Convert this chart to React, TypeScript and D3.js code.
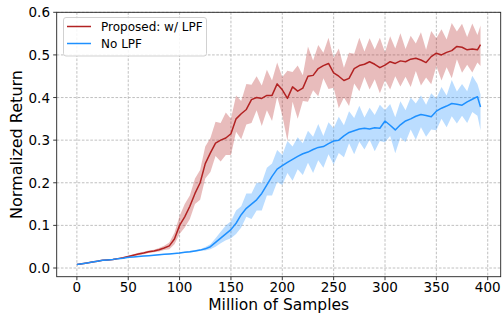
import React from "react";
import * as d3 from "d3";

const samples = [
  0, 5, 10, 15, 20, 25, 30, 35, 40, 45,
  50, 55, 60, 65, 70, 75, 80, 85, 90, 95,
  100, 105, 110, 115, 120, 125, 130, 135, 140, 145,
  150, 155, 160, 165, 170, 175, 180, 185, 190, 195,
  200, 205, 210, 215, 220, 225, 230, 235, 240, 245,
  250, 255, 260, 265, 270, 275, 280, 285, 290, 295,
  300, 305, 310, 315, 320, 325, 330, 335, 340, 345,
  350, 355, 360, 365, 370, 375, 380, 385, 390, 393,
];

const lpfMean = [
  0.008, 0.010, 0.012, 0.014, 0.016, 0.018, 0.019, 0.020, 0.022, 0.024,
  0.027, 0.030, 0.033, 0.035, 0.038, 0.040, 0.043, 0.047, 0.052, 0.068,
  0.100, 0.120, 0.145, 0.175, 0.200, 0.245, 0.270, 0.293, 0.300, 0.305,
  0.315, 0.350, 0.362, 0.372, 0.395, 0.400, 0.398, 0.405, 0.405, 0.432,
  0.418, 0.398, 0.425, 0.415, 0.422, 0.450, 0.452, 0.468, 0.475, 0.480,
  0.458, 0.450, 0.440, 0.445, 0.468, 0.475, 0.478, 0.484, 0.478, 0.470,
  0.476, 0.484, 0.480, 0.486, 0.484, 0.490, 0.492, 0.488, 0.482, 0.496,
  0.504, 0.500, 0.506, 0.510, 0.520, 0.518, 0.512, 0.514, 0.512, 0.524,
];

const lpfUp = [
  0.001, 0.001, 0.001, 0.001, 0.001, 0.001, 0.001, 0.001, 0.001, 0.001,
  0.002, 0.002, 0.003, 0.003, 0.003, 0.003, 0.004, 0.005, 0.008, 0.015,
  0.022, 0.030, 0.025, 0.035, 0.030, 0.040, 0.035, 0.050, 0.040, 0.060,
  0.035, 0.055, 0.030, 0.060, 0.035, 0.050, 0.030, 0.060, 0.035, 0.050,
  0.030, 0.065, 0.035, 0.060, 0.030, 0.070, 0.035, 0.055, 0.030, 0.060,
  0.035, 0.065, 0.030, 0.060, 0.035, 0.065, 0.030, 0.055, 0.035, 0.070,
  0.030, 0.060, 0.035, 0.065, 0.030, 0.055, 0.035, 0.065, 0.030, 0.060,
  0.035, 0.060, 0.030, 0.065, 0.035, 0.055, 0.030, 0.060, 0.035, 0.045,
];

const lpfDown = [
  0.001, 0.001, 0.001, 0.001, 0.001, 0.001, 0.001, 0.001, 0.001, 0.001,
  0.002, 0.002, 0.003, 0.003, 0.003, 0.003, 0.004, 0.005, 0.008, 0.012,
  0.020, 0.025, 0.030, 0.025, 0.040, 0.035, 0.045, 0.030, 0.050, 0.040,
  0.050, 0.030, 0.060, 0.035, 0.055, 0.030, 0.065, 0.035, 0.060, 0.030,
  0.060, 0.100, 0.035, 0.065, 0.030, 0.060, 0.035, 0.065, 0.030, 0.060,
  0.035, 0.075, 0.040, 0.065, 0.035, 0.060, 0.030, 0.065, 0.035, 0.060,
  0.035, 0.065, 0.030, 0.060, 0.035, 0.065, 0.030, 0.060, 0.035, 0.065,
  0.030, 0.060, 0.035, 0.065, 0.030, 0.060, 0.035, 0.055, 0.030, 0.050,
];

const noLpfMean = [
  0.008, 0.010, 0.012, 0.014, 0.016, 0.018, 0.019, 0.020, 0.022, 0.023,
  0.025, 0.026, 0.027, 0.028, 0.029, 0.030, 0.031, 0.032, 0.033, 0.034,
  0.035, 0.037, 0.038, 0.040, 0.042, 0.045, 0.050, 0.060, 0.070, 0.080,
  0.090, 0.105, 0.125, 0.140, 0.150, 0.160, 0.175, 0.195, 0.215, 0.232,
  0.240, 0.248, 0.255, 0.262, 0.268, 0.272, 0.278, 0.283, 0.285, 0.292,
  0.298, 0.300, 0.310, 0.318, 0.322, 0.326, 0.328, 0.326, 0.329, 0.328,
  0.345, 0.335, 0.324, 0.336, 0.345, 0.350, 0.356, 0.360, 0.358, 0.355,
  0.368, 0.375, 0.380, 0.386, 0.384, 0.382, 0.390, 0.396, 0.402, 0.378,
];

const noLpfUp = [
  0.001, 0.001, 0.001, 0.001, 0.001, 0.001, 0.001, 0.001, 0.001, 0.001,
  0.001, 0.001, 0.001, 0.001, 0.001, 0.001, 0.001, 0.001, 0.001, 0.001,
  0.001, 0.001, 0.002, 0.002, 0.002, 0.004, 0.006, 0.010, 0.015, 0.020,
  0.020, 0.030, 0.020, 0.035, 0.025, 0.040, 0.025, 0.040, 0.030, 0.045,
  0.025, 0.050, 0.030, 0.045, 0.025, 0.050, 0.030, 0.055, 0.025, 0.050,
  0.030, 0.055, 0.025, 0.050, 0.030, 0.055, 0.025, 0.050, 0.030, 0.055,
  0.025, 0.050, 0.030, 0.055, 0.025, 0.050, 0.030, 0.045, 0.025, 0.055,
  0.030, 0.050, 0.025, 0.055, 0.030, 0.050, 0.025, 0.055, 0.030, 0.030,
];

const noLpfDown = [
  0.001, 0.001, 0.001, 0.001, 0.001, 0.001, 0.001, 0.001, 0.001, 0.001,
  0.001, 0.001, 0.001, 0.001, 0.001, 0.001, 0.001, 0.001, 0.001, 0.001,
  0.001, 0.001, 0.002, 0.002, 0.002, 0.004, 0.006, 0.010, 0.012, 0.015,
  0.020, 0.025, 0.030, 0.020, 0.035, 0.025, 0.040, 0.025, 0.045, 0.030,
  0.045, 0.025, 0.050, 0.030, 0.050, 0.025, 0.055, 0.030, 0.050, 0.025,
  0.055, 0.030, 0.050, 0.025, 0.055, 0.030, 0.050, 0.025, 0.055, 0.030,
  0.050, 0.025, 0.055, 0.030, 0.050, 0.025, 0.055, 0.030, 0.050, 0.030,
  0.045, 0.025, 0.050, 0.030, 0.045, 0.025, 0.050, 0.030, 0.045, 0.055,
];

const xTicks = [0, 50, 100, 150, 200, 250, 300, 350, 400];
const yTicks = [0.0, 0.1, 0.2, 0.3, 0.4, 0.5, 0.6];
const seriesNames = ["Proposed: w/ LPF", "No LPF"];
const lineColors = ["#b22222", "#1e90ff"];
const bandColors = ["rgba(178,34,34,0.3)", "rgba(30,144,255,0.3)"];

const W = 502;
const H = 313;
const left = 56.7;
const right = 500.7;
const top = 12.3;
const bottom = 276.7;
const font = "'DejaVu Sans', sans-serif";

export default function App() {
  const x = d3.scaleLinear().domain([-19.65, 412.65]).range([left, right]);
  const y = d3.scaleLinear().domain([-0.0204, 0.6]).range([bottom, top]);

  const series = [
    { mean: lpfMean, up: lpfUp, down: lpfDown },
    { mean: noLpfMean, up: noLpfUp, down: noLpfDown },
  ];

  const line = d3
    .line<number>()
    .x((_, i) => x(samples[i]))
    .y((d) => y(d));

  const bands = series.map((s) =>
    d3
      .area<number>()
      .x((_, i) => x(samples[i]))
      .y0((d, i) => y(d - s.down[i]))
      .y1((d, i) => y(d + s.up[i]))(s.mean)
  );

  return (
    <svg
      width={W}
      height={H}
      style={{ position: "fixed", left: 0, top: 0, background: "#fff" }}
      fontFamily={font}
    >
      <defs>
        <clipPath id="plotclip">
          <rect x={left} y={top} width={right - left} height={bottom - top} />
        </clipPath>
      </defs>
      <g stroke="#b0b0b0" strokeWidth={0.8} strokeDasharray="2.6,1.6">
        {xTicks.map((t) => (
          <line key={"gx" + t} x1={x(t)} x2={x(t)} y1={top} y2={bottom} />
        ))}
        {yTicks.map((t) => (
          <line key={"gy" + t} x1={left} x2={right} y1={y(t)} y2={y(t)} />
        ))}
      </g>
      <g clipPath="url(#plotclip)">
        {bands.map((d, i) => (
          <path key={"b" + i} d={d || ""} fill={bandColors[i]} stroke="none" />
        ))}
        {series.map((s, i) => (
          <path
            key={"l" + i}
            d={line(s.mean) || ""}
            fill="none"
            stroke={lineColors[i]}
            strokeWidth={1.5}
            strokeLinejoin="round"
          />
        ))}
      </g>
      <rect
        x={left}
        y={top}
        width={right - left}
        height={bottom - top}
        fill="none"
        stroke="#222"
        strokeWidth={0.9}
      />
      <g stroke="#222" strokeWidth={0.9}>
        {xTicks.map((t) => (
          <line key={"tx" + t} x1={x(t)} x2={x(t)} y1={bottom} y2={bottom + 3.5} />
        ))}
        {yTicks.map((t) => (
          <line key={"ty" + t} x1={left - 3.5} x2={left} y1={y(t)} y2={y(t)} />
        ))}
      </g>
      <g fontSize={13.5} fill="#000">
        {xTicks.map((t) => (
          <text key={"lx" + t} x={x(t)} y={292} textAnchor="middle">
            {t}
          </text>
        ))}
        {yTicks.map((t) => (
          <text key={"ly" + t} x={50} y={y(t) + 5} textAnchor="end">
            {t.toFixed(1)}
          </text>
        ))}
      </g>
      <text x={(left + right) / 2} y={310} textAnchor="middle" fontSize={15.5} fill="#000">
        Million of Samples
      </text>
      <text
        transform={`translate(22,${(top + bottom) / 2}) rotate(-90)`}
        textAnchor="middle"
        fontSize={16}
        fill="#000"
      >
        Normalized Return
      </text>
      <rect
        x={63.5}
        y={17.5}
        width={143}
        height={38.5}
        rx={2.5}
        fill="rgba(255,255,255,0.85)"
        stroke="#cccccc"
        strokeWidth={0.9}
      />
      {seriesNames.map((n, i) => (
        <g key={"lg" + i}>
          <line
            x1={67}
            x2={91}
            y1={26.5 + i * 17}
            y2={26.5 + i * 17}
            stroke={lineColors[i]}
            strokeWidth={1.5}
          />
          <text x={101} y={26.5 + i * 17 + 4.3} fontSize={12} fill="#000">
            {n}
          </text>
        </g>
      ))}
    </svg>
  );
}
